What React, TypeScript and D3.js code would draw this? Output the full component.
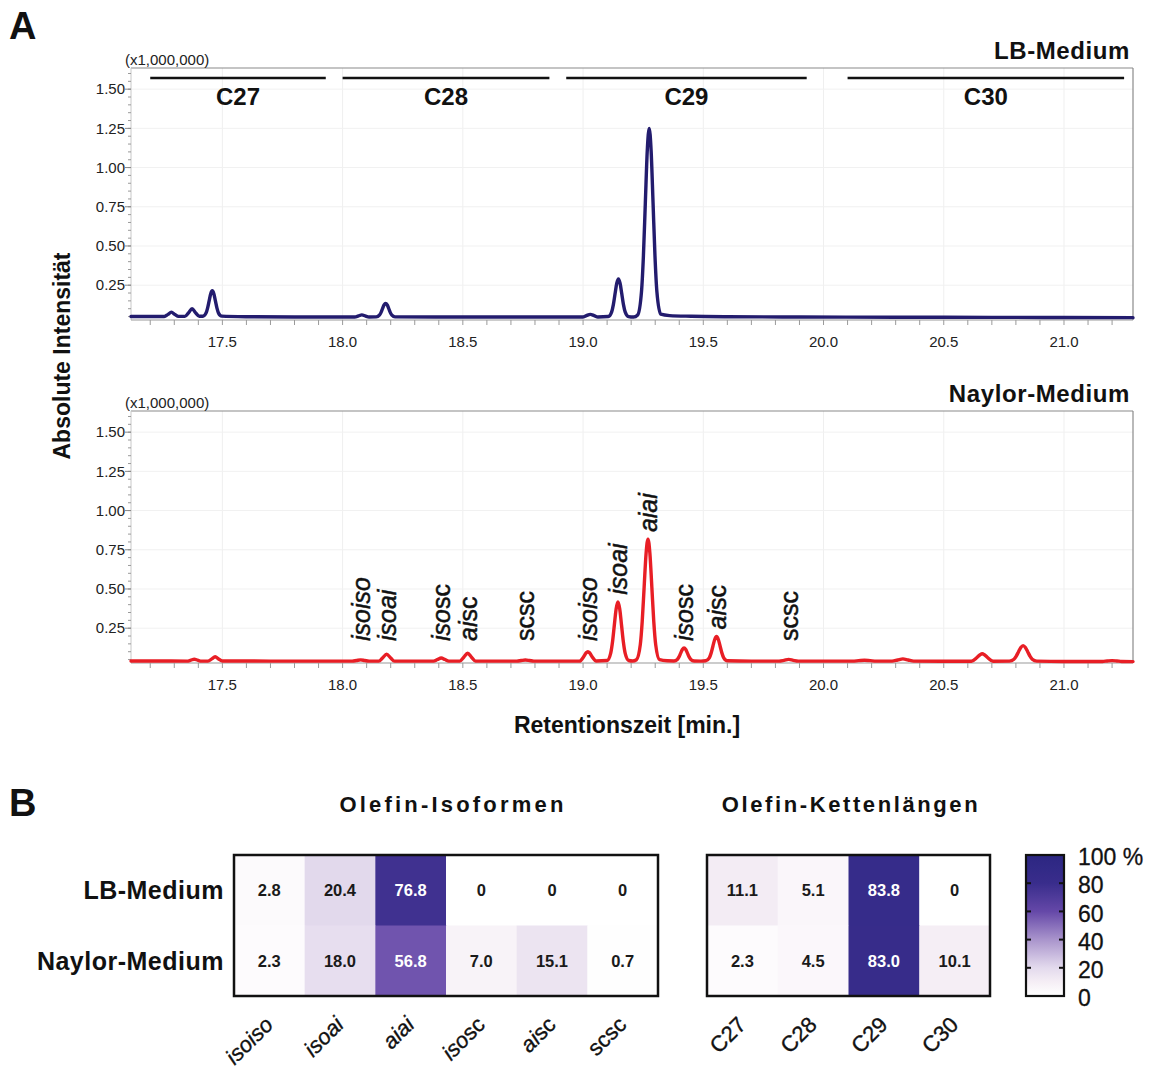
import React from 'react';
import * as d3 from 'd3';

// Chromatogram traces: [retention time (min), intensity (x1,000,000)]
const lbTrace: [number, number][] = [
  [17.12, 0.050], [17.20, 0.050], [17.258, 0.050], [17.274, 0.064], [17.288, 0.078], [17.302, 0.064], [17.318, 0.051],
  [17.344, 0.051], [17.360, 0.075], [17.374, 0.100], [17.388, 0.075], [17.404, 0.052],
  [17.419, 0.052], [17.432, 0.072], [17.4385, 0.104], [17.445, 0.150], [17.4515, 0.196], [17.458, 0.215], [17.4645, 0.196], [17.471, 0.150], [17.4775, 0.104], [17.484, 0.072], [17.497, 0.053],
  [17.60, 0.049], [17.80, 0.047], [18.00, 0.047],
  [18.05, 0.047], [18.066, 0.054], [18.08, 0.061], [18.094, 0.054], [18.11, 0.047],
  [18.14, 0.048], [18.153, 0.059], [18.1595, 0.075], [18.166, 0.100], [18.1725, 0.124], [18.179, 0.134], [18.1855, 0.124], [18.192, 0.100], [18.1985, 0.075], [18.205, 0.059], [18.218, 0.048],
  [18.40, 0.047], [18.70, 0.047], [18.95, 0.047],
  [18.998, 0.047], [19.014, 0.056], [19.03, 0.064], [19.046, 0.056], [19.062, 0.047],
  [19.105, 0.050], [19.119, 0.080], [19.126, 0.126], [19.133, 0.195], [19.14, 0.261], [19.147, 0.290], [19.154, 0.261], [19.161, 0.195], [19.168, 0.126], [19.175, 0.080], [19.189, 0.050],
  [19.21, 0.047],
  [19.227, 0.060], [19.243, 0.209], [19.251, 0.438], [19.259, 0.777], [19.267, 1.108], [19.275, 1.250], [19.283, 1.108], [19.291, 0.777], [19.299, 0.438], [19.307, 0.209], [19.323, 0.065],
  [19.36, 0.056], [19.45, 0.052], [19.60, 0.049], [19.90, 0.047], [20.30, 0.046], [20.70, 0.045], [21.00, 0.044], [21.287, 0.043],
];

const naylorTrace: [number, number][] = [
  [17.12, 0.041], [17.25, 0.041],
  [17.353, 0.040], [17.369, 0.046], [17.383, 0.052], [17.397, 0.046], [17.413, 0.040],
  [17.44, 0.040], [17.456, 0.054], [17.47, 0.068], [17.484, 0.054], [17.50, 0.041],
  [17.70, 0.040], [17.95, 0.040],
  [18.04, 0.040], [18.058, 0.044], [18.075, 0.048], [18.092, 0.044], [18.11, 0.040],
  [18.15, 0.040], [18.167, 0.062], [18.183, 0.084], [18.199, 0.062], [18.216, 0.040],
  [18.30, 0.040],
  [18.378, 0.040], [18.394, 0.050], [18.41, 0.060], [18.426, 0.050], [18.442, 0.040],
  [18.487, 0.040], [18.504, 0.065], [18.52, 0.090], [18.536, 0.065], [18.553, 0.040],
  [18.65, 0.040],
  [18.725, 0.040], [18.743, 0.044], [18.76, 0.047], [18.777, 0.044], [18.795, 0.040],
  [18.93, 0.040],
  [18.985, 0.040], [19.003, 0.069], [19.013, 0.093], [19.02, 0.100], [19.027, 0.093], [19.037, 0.069], [19.055, 0.041],
  [19.10, 0.044], [19.115, 0.091], [19.1225, 0.163], [19.13, 0.269], [19.1375, 0.373], [19.145, 0.418], [19.1525, 0.373], [19.16, 0.269], [19.1675, 0.163], [19.175, 0.091], [19.19, 0.044],
  [19.206, 0.041],
  [19.222, 0.049], [19.238, 0.145], [19.246, 0.293], [19.254, 0.512], [19.262, 0.726], [19.27, 0.818], [19.278, 0.726], [19.286, 0.512], [19.294, 0.293], [19.302, 0.145], [19.318, 0.049],
  [19.35, 0.042],
  [19.378, 0.041], [19.392, 0.051], [19.399, 0.067], [19.406, 0.091], [19.413, 0.114], [19.42, 0.124], [19.427, 0.114], [19.434, 0.091], [19.441, 0.067], [19.448, 0.051], [19.462, 0.041],
  [19.49, 0.040],
  [19.51, 0.042], [19.525, 0.061], [19.5325, 0.091], [19.54, 0.135], [19.5475, 0.178], [19.555, 0.197], [19.5625, 0.178], [19.57, 0.135], [19.5775, 0.091], [19.585, 0.061], [19.60, 0.042],
  [19.70, 0.040],
  [19.815, 0.040], [19.836, 0.045], [19.855, 0.051], [19.874, 0.045], [19.895, 0.040],
  [20.05, 0.040],
  [20.12, 0.040], [20.146, 0.043], [20.17, 0.046], [20.194, 0.043], [20.22, 0.040],
  [20.285, 0.040], [20.308, 0.047], [20.33, 0.054], [20.352, 0.047], [20.375, 0.040],
  [20.50, 0.039],
  [20.615, 0.039], [20.638, 0.063], [20.651, 0.081], [20.66, 0.087], [20.669, 0.081], [20.682, 0.063], [20.705, 0.039],
  [20.773, 0.040], [20.792, 0.052], [20.8015, 0.072], [20.811, 0.100], [20.8205, 0.127], [20.83, 0.139], [20.8395, 0.127], [20.849, 0.100], [20.8585, 0.072], [20.868, 0.052], [20.887, 0.040],
  [21.00, 0.038],
  [21.16, 0.038], [21.18, 0.041], [21.20, 0.043], [21.22, 0.041], [21.24, 0.038],
  [21.287, 0.037],
];

// Chain-length windows in the LB chromatogram
const chainNames = ['C27', 'C28', 'C29', 'C30'];
const chainStart = [17.2, 18.0, 18.93, 20.1];
const chainEnd = [17.93, 18.86, 19.93, 21.25];

// Assigned isoform peaks in the Naylor chromatogram
const peakNames = ['isoiso', 'isoai', 'isosc', 'aisc', 'scsc', 'isoiso', 'isoai', 'aiai', 'isosc', 'aisc', 'scsc'];
const peakTimes = [18.075, 18.183, 18.41, 18.52, 18.76, 19.02, 19.145, 19.27, 19.42, 19.555, 19.855];
const peakTops = [0.048, 0.084, 0.060, 0.090, 0.051, 0.100, 0.418, 0.818, 0.124, 0.197, 0.051];

const xTickValues = [17.5, 18.0, 18.5, 19.0, 19.5, 20.0, 20.5, 21.0];
const yTickValues = [0.25, 0.5, 0.75, 1.0, 1.25, 1.5];

// Heatmap percentages
const mediumNames = ['LB-Medium', 'Naylor-Medium'];
const isoformNames = ['isoiso', 'isoai', 'aiai', 'isosc', 'aisc', 'scsc'];
const isoformLB = [2.8, 20.4, 76.8, 0, 0, 0];
const isoformNaylor = [2.3, 18.0, 56.8, 7.0, 15.1, 0.7];
const chainLB = [11.1, 5.1, 83.8, 0];
const chainNaylor = [2.3, 4.5, 83.0, 10.1];
const colorTicks = [0, 20, 40, 60, 80, 100];

const FONT = 'Liberation Sans, Arial, Helvetica, sans-serif';

const x = d3.scaleLinear().domain([17.12, 21.287]).range([131, 1133]);
const yDomain: [number, number] = [0.028, 1.635];

const colorScale = d3
  .scaleLinear<string>()
  .domain([0, 10, 20, 40, 60, 80, 100])
  .range(['#ffffff', '#f5eef5', '#e3daed', '#a994cc', '#6548a8', '#392d8c', '#2b2681'])
  .interpolate(d3.interpolateRgb);

// Split isoform names so that iso/ai parts are italic and sc parts upright
function styledParts(name: string) {
  return (name.match(/iso|ai|sc/g) || [name]).map((p) => ({ text: p, italic: p !== 'sc' }));
}

function StyledName({ name, ...rest }: { name: string; [k: string]: any }) {
  return (
    <text {...rest}>
      {styledParts(name).map((p, i) => (
        <tspan key={i} fontStyle={p.italic ? 'italic' : 'normal'}>
          {p.text}
        </tspan>
      ))}
    </text>
  );
}

function Chromatogram({ trace, color, title, top }: { trace: [number, number][]; color: string; title: string; top: number }) {
  const bottom = top + 252;
  const y = d3.scaleLinear().domain(yDomain).range([bottom, top]);
  const line = d3
    .line<[number, number]>()
    .x((d) => x(d[0]))
    .y((d) => y(d[1]))
    .curve(d3.curveMonotoneX);
  const xMinor = d3.range(172, 213).map((v) => v / 10);
  const yMinor = d3.range(1, 33).map((v) => v * 0.05);
  const [x0, x1] = x.range();
  return (
    <g>
      {/* grid */}
      {xTickValues.map((t) => (
        <line key={'gx' + t} x1={x(t)} x2={x(t)} y1={top} y2={bottom} stroke="#efefef" strokeWidth={1} />
      ))}
      {yTickValues.map((t) => (
        <line key={'gy' + t} x1={x0} x2={x1} y1={y(t)} y2={y(t)} stroke="#f1f1f1" strokeWidth={1} />
      ))}
      {/* frame */}
      <line x1={x0} x2={x1} y1={top} y2={top} stroke="#8a8a8a" strokeWidth={1.2} />
      <line x1={x1} x2={x1} y1={top} y2={bottom} stroke="#8a8a8a" strokeWidth={1.2} />
      <line x1={x0} x2={x0} y1={top} y2={bottom} stroke="#c8c8c8" strokeWidth={1} />
      <line x1={x0} x2={x1} y1={bottom} y2={bottom} stroke="#9a9a9a" strokeWidth={1.2} />
      {/* y ticks */}
      {yMinor.map((v, i) => (
        <line key={'ym' + i} x1={x0 - 3} x2={x0} y1={y(v)} y2={y(v)} stroke="#9a9a9a" strokeWidth={1} />
      ))}
      {yTickValues.map((t) => (
        <g key={'yt' + t}>
          <line x1={x0 - 6} x2={x0} y1={y(t)} y2={y(t)} stroke="#888" strokeWidth={1} />
          <text x={x0 - 6} y={y(t)} dy="0.35em" textAnchor="end" fontSize={15} fill="#222" fontFamily={FONT}>
            {t.toFixed(2)}
          </text>
        </g>
      ))}
      {/* x ticks */}
      {xMinor.map((v, i) => (
        <line key={'xm' + i} x1={x(v)} x2={x(v)} y1={bottom} y2={bottom + 5} stroke="#9a9a9a" strokeWidth={1} />
      ))}
      {xTickValues.map((t) => (
        <text key={'xt' + t} x={x(t)} y={bottom + 27} textAnchor="middle" fontSize={15} fill="#222" fontFamily={FONT}>
          {t.toFixed(1)}
        </text>
      ))}
      <text x={125} y={top - 3} fontSize={15} fill="#222" fontFamily={FONT}>
        (x1,000,000)
      </text>
      <text x={1130} y={top - 9} textAnchor="end" fontSize={24} fontWeight="bold" letterSpacing={0.6} fill="#111" fontFamily={FONT}>
        {title}
      </text>
      <path d={line(trace) || ''} fill="none" stroke={color} strokeWidth={3.4} strokeLinejoin="round" strokeLinecap="round" />
    </g>
  );
}

function Heatmap({ left, width, cols, rows, styled }: { left: number; width: number; cols: string[]; rows: number[][]; styled: boolean }) {
  const top = 855;
  const bottom = 996;
  const xb = d3.scaleBand<string>().domain(cols).range([left, left + width]);
  const yb = d3.scaleBand<string>().domain(mediumNames).range([top, bottom]);
  return (
    <g>
      {rows.map((vals, r) =>
        vals.map((v, c) => {
          const cx = xb(cols[c])! + xb.bandwidth() / 2;
          const cy = yb(mediumNames[r])! + yb.bandwidth() / 2;
          return (
            <g key={r + '-' + c}>
              <rect x={xb(cols[c])} y={yb(mediumNames[r])} width={xb.bandwidth() + 0.5} height={yb.bandwidth() + 0.5} fill={colorScale(v)} />
              <text x={cx} y={cy} dy="0.36em" textAnchor="middle" fontSize={16.5} fontWeight="bold" fill={v > 45 ? '#ffffff' : '#1a1a1a'} fontFamily={FONT}>
                {v === 0 ? '0' : v.toFixed(1)}
              </text>
            </g>
          );
        })
      )}
      <rect x={left} y={top} width={width} height={bottom - top} fill="none" stroke="#111" strokeWidth={2.5} />
      {cols.map((c) => {
        const cx = xb(c)! + xb.bandwidth() / 2 + 5;
        const ty = bottom + 30;
        const common = {
          x: 0,
          y: 0,
          transform: `translate(${cx},${ty}) rotate(-45)`,
          textAnchor: 'end',
          fontSize: 22,
          fill: '#111',
          stroke: '#111',
          strokeWidth: 0.35,
          fontFamily: FONT,
        };
        return styled ? <StyledName key={c} name={c} {...common} /> : <text key={c} {...common}>{c}</text>;
      })}
    </g>
  );
}

export default function App() {
  const yBottom = d3.scaleLinear().domain(yDomain).range([663, 411]);
  const cbTop = 855;
  const cbBottom = 996;
  const cb = d3.scaleLinear().domain([0, 100]).range([cbBottom, cbTop]);
  const gradStops = d3.range(0, 101, 5);
  return (
    <div style={{ position: 'absolute', left: 0, top: 0 }}>
      <svg width={1155} height={1068} viewBox="0 0 1155 1068" style={{ display: 'block', background: '#fff' }}>
        <defs>
          <linearGradient id="cbGrad" x1="0" y1="1" x2="0" y2="0">
            {gradStops.map((s) => (
              <stop key={s} offset={`${s}%`} stopColor={colorScale(s)} />
            ))}
          </linearGradient>
        </defs>

        <text x={9} y={39} fontSize={38} fontWeight="bold" fill="#111" fontFamily={FONT}>A</text>
        <text x={9} y={816} fontSize={38} fontWeight="bold" fill="#111" fontFamily={FONT}>B</text>

        <Chromatogram trace={lbTrace} color="#231c6e" title="LB-Medium" top={68} />
        <Chromatogram trace={naylorTrace} color="#e81e25" title="Naylor-Medium" top={411} />

        {/* chain-length brackets */}
        {chainNames.map((n, i) => (
          <g key={n}>
            <line x1={x(chainStart[i])} x2={x(chainEnd[i])} y1={78} y2={78} stroke="#111" strokeWidth={2.6} />
            <text x={(x(chainStart[i]) + x(chainEnd[i])) / 2} y={105} textAnchor="middle" fontSize={24} fontWeight="bold" fill="#111" fontFamily={FONT}>
              {n}
            </text>
          </g>
        ))}

        {/* isoform peak labels */}
        {peakNames.map((n, i) => {
          const base = Math.min(yBottom(peakTops[i]) - 7, 641);
          return (
            <StyledName key={i} name={n} x={0} y={0} dy="0.36em" transform={`translate(${x(peakTimes[i])},${base}) rotate(-90)`} fontSize={25} fill="#111" stroke="#111" strokeWidth={0.5} fontFamily={FONT} />
          );
        })}

        <text transform="translate(62,356) rotate(-90)" textAnchor="middle" dy="0.35em" fontSize={23} fontWeight="bold" fill="#111" fontFamily={FONT}>
          Absolute Intensität
        </text>
        <text x={627} y={733} textAnchor="middle" fontSize={23} fontWeight="bold" fill="#111" fontFamily={FONT}>
          Retentionszeit [min.]
        </text>

        {/* panel B */}
        <text x={453} y={812} textAnchor="middle" fontSize={22} fontWeight="bold" letterSpacing={3.2} fill="#111" fontFamily={FONT}>
          Olefin-Isoformen
        </text>
        <text x={851} y={812} textAnchor="middle" fontSize={22} fontWeight="bold" letterSpacing={2.6} fill="#111" fontFamily={FONT}>
          Olefin-Kettenlängen
        </text>
        {mediumNames.map((m, i) => (
          <text key={m} x={224} y={890 + i * 71} dy="0.36em" textAnchor="end" fontSize={25} fontWeight="bold" letterSpacing={0.5} fill="#111" fontFamily={FONT}>
            {m}
          </text>
        ))}
        <Heatmap left={234} width={424} cols={isoformNames} rows={[isoformLB, isoformNaylor]} styled />
        <Heatmap left={707} width={283} cols={chainNames} rows={[chainLB, chainNaylor]} styled={false} />

        {/* colour bar */}
        <rect x={1026} y={cbTop} width={38} height={cbBottom - cbTop} fill="url(#cbGrad)" stroke="#111" strokeWidth={2.2} />
        {colorTicks.map((t) => (
          <g key={t}>
            {t > 0 && t < 100 && (
              <>
                <line x1={1026} x2={1031} y1={cb(t)} y2={cb(t)} stroke="#111" strokeWidth={2} />
                <line x1={1059} x2={1064} y1={cb(t)} y2={cb(t)} stroke="#111" strokeWidth={2} />
              </>
            )}
            <text x={1078} y={cb(t) + 2} dy="0.36em" fontSize={23} fill="#111" stroke="#111" strokeWidth={0.3} fontFamily={FONT}>
              {t === 100 ? '100 %' : t}
            </text>
          </g>
        ))}
      </svg>
    </div>
  );
}
